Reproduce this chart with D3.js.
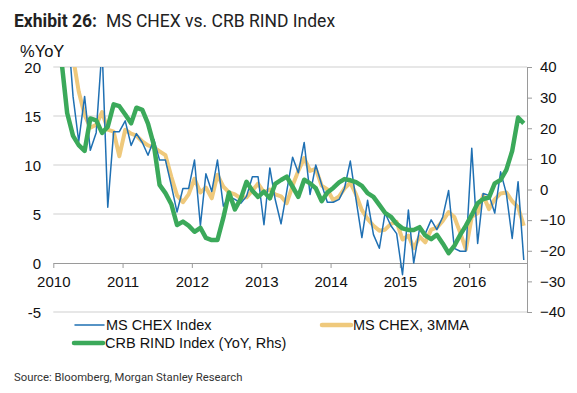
<!DOCTYPE html>
<html>
<head>
<meta charset="utf-8">
<script src="https://cdn.jsdelivr.net/npm/d3@7"></script>
<style>
  html, body { margin: 0; padding: 0; background: #fff; }
  svg { display: block; }
</style>
</head>
<body>
<svg id="chart" width="577" height="393"></svg>
<script>
// ---- data (monthly, Jan 2010 .. Oct 2016) ----
const startMonth = new Date(2010, 0, 15);
const msChex = [24, 26, 25, 17, 12.4, 17.0, 11.5, 13.3, 22, 5.7, 13.4, 13.4,
  14.5, 12.0, 13.2, 12.3, 11.0, 12.6, 10.5, 10.5, 7.9, 5.2, 7.6, 7.6,
  10.5, 3.8, 9.1, 7.3, 10.5, 5.8, 6.8, 6.5, 6.1, 6.8, 8.8, 8.8,
  3.9, 9.7, 6.5, 4.0, 7.3, 10.8, 9.2, 12.3, 7.0, 10.0, 8.0, 6.2,
  6.2, 6.5, 7.6, 10.4, 6.5, 2.6, 6.4, 2.9, 1.5, 5.1, 3.8, 3.0,
  -1.2, 5.4, 0.0, 3.5, 3.0, 4.4, 3.4, 4.7, 7.4, 1.5, 1.2, 1.2,
  11.7, 2.0, 7.1, 6.9, 5.1, 9.3, 7.1, 2.5, 8.3, 0.3];
const msChex3mma = [25, 26, 25, 21, 17.5, 15.1, 13.8, 14.1, 15.4, 13.6, 13.4, 10.9,
  13.6, 13.2, 13.0, 12.4, 12.0, 11.8, 11.4, 11.0, 8.8, 6.9, 6.2, 7.0,
  8.6, 7.2, 7.7, 6.6, 9.0, 7.8, 7.2, 7.0, 6.6, 6.7, 7.4, 8.1,
  7.2, 7.5, 7.0, 6.8, 6.1, 7.9, 9.4, 10.7, 9.4, 9.6, 7.9, 7.5,
  6.4, 6.8, 7.6, 8.2, 7.0, 5.4, 4.5, 3.8, 3.3, 3.4, 4.0, 4.2,
  2.4, 2.8, 1.5, 2.7, 2.1, 3.4, 3.6, 4.3, 5.2, 4.7, 3.1, 1.4,
  4.7, 5.1, 6.9, 5.5, 6.5, 7.1, 7.2, 6.3, 5.7, 3.8];
const crbRind = [44, 41, 25, 17.5, 14.5, 12.6, 23.2, 22.6, 18.5, 20.5, 27.8, 27.2,
  24.5, 21.6, 26.7, 26.0, 21.5, 14.5, 1.5, -1.2, -4.8, -11.6, -10.5, -11.8,
  -13.8, -12.5, -15.8, -16.5, -16.5, -9.2, -1.0, -6.5, -3.0, 2.5, -0.4, -2.4,
  -0.7, -2.9, 1.8, 3.1, 4.2, 0.9, -2.4, 3.2, 2.0, 0.4, -3.8, -1.0,
  0.5, 2.3, 3.4, 3.0, 2.4, 1.2, -1.2, -2.4, -5.0, -7.6, -8.9, -11.2,
  -12.7, -13.2, -13.2, -12.3, -15.0, -16.2, -14.8, -17.6, -20.8, -18.4, -14.8, -11.8,
  -8.3, -4.5, -3.1, -2.6, 2.0, 3.1, 6.4, 12.6, 23.5, 21.6];
const months = msChex.map((_, i) => d3.timeMonth.offset(startMonth, i));
const yearTicks = [2010, 2011, 2012, 2013, 2014, 2015, 2016];
const leftTicks = [-5, 0, 5, 10, 15, 20];
const rightTicks = [-40, -30, -20, -10, 0, 10, 20, 30, 40];
const seriesNames = ["MS CHEX Index", "MS CHEX, 3MMA", "CRB RIND Index (YoY, Rhs)"];
const colors = ["#1f70b3", "#efc97c", "#3ba95a"];

// ---- layout ----
const svg = d3.select("#chart");
const L = 53.3, R = 527, T = 67, B = 312;

const x = d3.scaleTime().domain([new Date(2010, 0, 1), new Date(2016, 10, 1)]).range([L, R]);
const yL = d3.scaleLinear().domain([-5, 20]).range([B, T]);
const yR = d3.scaleLinear().domain([-40, 40]).range([B, T]);

// title
const title = svg.append("text").attr("x", 14).attr("y", 27)
  .style("font-family", "Roboto, 'Liberation Sans', sans-serif").style("font-size", "17.5px").attr("fill", "#222");
title.append("tspan").attr("font-weight", "bold").text("Exhibit 26:");
title.append("tspan").attr("dx", 9).text("MS CHEX vs. CRB RIND Index");

// %YoY
svg.append("text").attr("x", 20).attr("y", 57).text("%YoY")
  .style("font-family", "'Liberation Sans', Arial, sans-serif").style("font-size", "16.5px").attr("fill", "#111");

// gridlines (left ticks, except 0)
svg.append("g").selectAll("line").data(leftTicks.filter(d => d !== 0)).join("line")
  .attr("x1", L).attr("x2", R).attr("y1", d => yL(d)).attr("y2", d => yL(d))
  .attr("stroke", "#cfcfcf").attr("stroke-width", 1);

// left tick labels
svg.append("g").selectAll("text").data(leftTicks).join("text")
  .attr("x", 41).attr("y", d => yL(d)).attr("dy", "0.38em").attr("text-anchor", "end")
  .style("font-family", "'Liberation Sans', Arial, sans-serif").style("font-size", "15px").attr("fill", "#111")
  .text(d => d);

// x axis at 0
const xAxis = d3.axisBottom(x)
  .tickValues(yearTicks.map(y => new Date(y, 0, 1)))
  .tickFormat(d3.timeFormat("%Y")).tickSize(5).tickSizeOuter(0);
const gx = svg.append("g").attr("transform", `translate(0,${yL(0)})`).call(xAxis);
gx.select(".domain").attr("stroke", "#9a9a9a");
gx.selectAll(".tick line").attr("stroke", "#9a9a9a");
gx.selectAll(".tick text").attr("dy", "1.05em")
  .style("font-family", "'Liberation Sans', Arial, sans-serif").style("font-size", "15px").attr("fill", "#111");

// right axis
const yAxisR = d3.axisRight(yR).tickValues(rightTicks).tickSize(5).tickSizeOuter(0).tickPadding(8);
const gr = svg.append("g").attr("transform", `translate(${R},0)`).call(yAxisR);
gr.select(".domain").attr("stroke", "#9a9a9a");
gr.selectAll(".tick line").attr("stroke", "#9a9a9a");
gr.selectAll(".tick text")
  .style("font-family", "'Liberation Sans', Arial, sans-serif").style("font-size", "15px").attr("fill", "#111");

// clip
svg.append("clipPath").attr("id", "plotclip").append("rect")
  .attr("x", L).attr("y", T).attr("width", R - L).attr("height", B - T);

const plot = svg.append("g").attr("clip-path", "url(#plotclip)");
const lineL = d3.line().x((d, i) => x(months[i])).y(d => yL(d));
const lineR = d3.line().x((d, i) => x(months[i])).y(d => yR(d));

plot.append("path").datum(msChex3mma).attr("d", lineL)
  .attr("fill", "none").attr("stroke", colors[1]).attr("stroke-width", 4).attr("stroke-linejoin", "round");
plot.append("path").datum(msChex).attr("d", lineL)
  .attr("fill", "none").attr("stroke", colors[0]).attr("stroke-width", 1.5).attr("stroke-linejoin", "round");
plot.append("path").datum(crbRind).attr("d", lineR)
  .attr("fill", "none").attr("stroke", colors[2]).attr("stroke-width", 4.5).attr("stroke-linejoin", "round");

// legend
const legend = [
  { name: seriesNames[0], color: colors[0], w: 1.5, x: 75, y: 325 },
  { name: seriesNames[1], color: colors[1], w: 4.5, x: 322, y: 325 },
  { name: seriesNames[2], color: colors[2], w: 4.5, x: 74, y: 343 }
];
const lg = svg.append("g").selectAll("g").data(legend).join("g");
lg.append("line").attr("x1", d => d.x).attr("x2", d => d.x + 29).attr("y1", d => d.y).attr("y2", d => d.y)
  .attr("stroke", d => d.color).attr("stroke-width", d => d.w).attr("stroke-linecap", "round");
lg.append("text").attr("x", d => d.x + 31).attr("y", d => d.y).attr("dy", "0.36em")
  .style("font-family", "'Liberation Sans', Arial, sans-serif").style("font-size", "14.5px").attr("fill", "#111")
  .text(d => d.name);

// source
svg.append("text").attr("x", 14).attr("y", 381).text("Source: Bloomberg, Morgan Stanley Research")
  .style("font-family", "Roboto, 'Liberation Sans', sans-serif").style("font-size", "11.3px").attr("fill", "#333");
</script>
</body>
</html>
